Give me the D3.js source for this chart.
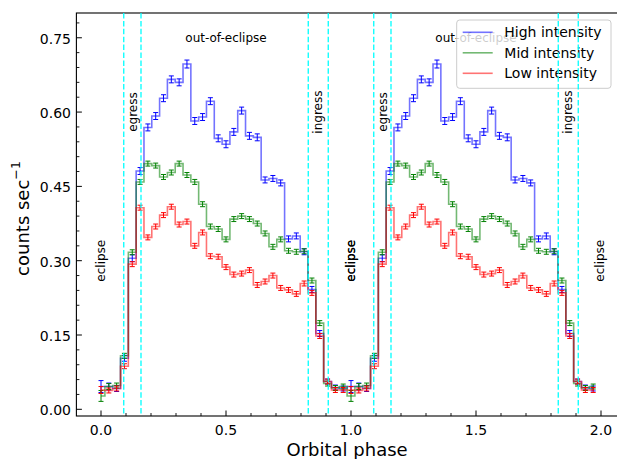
<!DOCTYPE html>
<html><head><meta charset="utf-8">
<script src="https://cdn.jsdelivr.net/npm/d3@7"></script>
<style>
html,body{margin:0;padding:0;background:#fff;}
svg{display:block;font-family:"DejaVu Sans",sans-serif;}
</style></head>
<body>
<svg id="chart" width="617" height="459"></svg>
<script>
// ---- data (one orbital cycle, 32 phase bins; the figure shows two cycles) ----
const phaseCycle = [0.00000,0.03125,0.06250,0.09375,0.12500,0.15625,0.18750,0.21875,
  0.25000,0.28125,0.31250,0.34375,0.37500,0.40625,0.43750,0.46875,
  0.50000,0.53125,0.56250,0.59375,0.62500,0.65625,0.68750,0.71875,
  0.75000,0.78125,0.81250,0.84375,0.87500,0.90625,0.93750,0.96875];
const highRate = [0.046,0.046,0.042,0.103,0.305,0.481,0.569,0.592,0.628,0.666,0.660,0.697,
  0.582,0.590,0.622,0.547,0.535,0.560,0.603,0.552,0.549,0.463,0.466,0.457,
  0.344,0.350,0.318,0.242,0.153,0.056,0.044,0.042];
const highErr = [0.012,0.007,0.006,0.006,0.007,0.007,0.007,0.007,0.007,0.007,0.007,0.008,
  0.007,0.007,0.007,0.007,0.007,0.007,0.007,0.007,0.007,0.006,0.006,0.006,
  0.006,0.006,0.006,0.006,0.006,0.005,0.005,0.005];
const midRate = [0.027,0.046,0.048,0.108,0.317,0.459,0.496,0.492,0.469,0.478,0.496,0.473,
  0.459,0.414,0.369,0.364,0.343,0.384,0.390,0.384,0.375,0.355,0.328,0.343,
  0.320,0.318,0.319,0.260,0.174,0.052,0.043,0.046];
const midErr = [0.011,0.006,0.005,0.005,0.005,0.005,0.005,0.005,0.005,0.005,0.005,0.005,
  0.005,0.005,0.005,0.005,0.005,0.005,0.005,0.005,0.005,0.005,0.005,0.005,
  0.005,0.005,0.005,0.005,0.005,0.005,0.005,0.005];
const lowRate = [0.039,0.038,0.042,0.087,0.293,0.407,0.347,0.369,0.392,0.409,0.373,0.379,
  0.330,0.357,0.309,0.308,0.287,0.272,0.274,0.281,0.251,0.258,0.270,0.245,
  0.241,0.233,0.254,0.235,0.148,0.056,0.039,0.039];
const lowErr = [0.007,0.005,0.005,0.005,0.005,0.005,0.005,0.005,0.005,0.005,0.005,0.005,
  0.005,0.005,0.005,0.005,0.005,0.005,0.005,0.005,0.005,0.005,0.005,0.005,
  0.005,0.005,0.005,0.005,0.005,0.005,0.005,0.005];
const seriesNames = ["High intensity","Mid intensity","Low intensity"];
const cycleOffsets = [0, 1];
const boundaryPhases = [0.091, 0.160, 0.829, 0.909, 1.091, 1.160, 1.829, 1.909];
const xTicks = [0.0, 0.5, 1.0, 1.5, 2.0];
const xTickLabels = ["0.0","0.5","1.0","1.5","2.0"];
const yTicks = [0.00, 0.15, 0.30, 0.45, 0.60, 0.75];
const yTickLabels = ["0.00","0.15","0.30","0.45","0.60","0.75"];
const xMinor = [-0.1,0.1,0.2,0.3,0.4,0.6,0.7,0.8,0.9,1.1,1.2,1.3,1.4,1.6,1.7,1.8,1.9];
const yMinor = [0.03,0.06,0.09,0.12,0.18,0.21,0.24,0.27,0.33,0.36,0.39,0.42,0.48,0.51,0.54,0.57,0.63,0.66,0.69,0.72,0.78];
const rotLabels = [
  {text:"eclipse", x:0.0, y:0.30},
  {text:"egress", x:0.127, y:0.60},
  {text:"ingress", x:0.869, y:0.60},
  {text:"eclipse", x:1.0, y:0.30},
  {text:"eclipse", x:1.0, y:0.30},
  {text:"egress", x:1.127, y:0.60},
  {text:"ingress", x:1.869, y:0.60},
  {text:"eclipse", x:1.996, y:0.30}
];
const flatLabels = [{text:"out-of-eclipse", x:0.5, y:0.75},{text:"out-of-eclipse", x:1.5, y:0.75}];

// ---- layout ----
const svg = d3.select("#chart");
const L = 76.4, R = 617.8, T = 13, B = 416;
const x = d3.scaleLinear().domain([-0.0984, 2.0672]).range([L, R]);
const y = d3.scaleLinear().domain([-0.0135, 0.80]).range([B, T]);

svg.append("defs").append("clipPath").attr("id","clip")
  .append("rect").attr("x",L).attr("y",T).attr("width",R-L).attr("height",B-T);

const colors = ["#0000ff","#008000","#ff0000"];
const rates = [highRate, midRate, lowRate];
const errs = [highErr, midErr, lowErr];

function build(rate, err){
  const out = [];
  cycleOffsets.forEach(off => phaseCycle.forEach((p,i) => out.push({x:p+off, y:rate[i], e:err[i]})));
  return out;
}

const plot = svg.append("g").attr("clip-path","url(#clip)");
const line = d3.line().x(d=>x(d.x)).y(d=>y(d.y)).curve(d3.curveStep);

rates.forEach((rate, k) => {
  const data = build(rate, errs[k]);
  plot.append("path").datum(data).attr("d", line)
    .attr("fill","none").attr("stroke",colors[k]).attr("stroke-width",1.6).attr("stroke-opacity",0.55);
  const g = plot.append("g").attr("stroke",colors[k]).attr("stroke-width",1);
  g.selectAll("line.v").data(data).join("line")
    .attr("x1",d=>x(d.x)).attr("x2",d=>x(d.x)).attr("y1",d=>y(d.y-d.e)).attr("y2",d=>y(d.y+d.e));
  g.selectAll("line.t").data(data).join("line")
    .attr("x1",d=>x(d.x)-2.5).attr("x2",d=>x(d.x)+2.5).attr("y1",d=>y(d.y+d.e)).attr("y2",d=>y(d.y+d.e));
  g.selectAll("line.b").data(data).join("line")
    .attr("x1",d=>x(d.x)-2.5).attr("x2",d=>x(d.x)+2.5).attr("y1",d=>y(d.y-d.e)).attr("y2",d=>y(d.y-d.e));
});

// annotations
rotLabels.forEach(a => {
  svg.append("text").attr("transform",`translate(${x(a.x)},${y(a.y)}) rotate(-90)`)
    .attr("text-anchor","middle").attr("dominant-baseline","central")
    .attr("font-size",12).attr("fill","#000").text(a.text);
});
flatLabels.forEach(a => {
  svg.append("text").attr("x",x(a.x)).attr("y",y(a.y)).attr("text-anchor","middle")
    .attr("dominant-baseline","central").attr("font-size",12).attr("fill","#000").text(a.text);
});

// axes ticks (inward)
const ax = svg.append("g");
xTicks.forEach((t,i) => {
  ax.append("line").attr("x1",x(t)).attr("x2",x(t)).attr("y1",B).attr("y2",B-5.5).attr("stroke","#000").attr("stroke-width",1);
  ax.append("text").attr("x",x(t)).attr("y",435).attr("text-anchor","middle").attr("font-size",14).text(xTickLabels[i]);
});
xMinor.forEach(t => {
  if (x(t) > L) ax.append("line").attr("x1",x(t)).attr("x2",x(t)).attr("y1",B).attr("y2",B-3).attr("stroke","#000").attr("stroke-width",0.9);
});
yTicks.forEach((t,i) => {
  ax.append("line").attr("x1",L).attr("x2",L+5.5).attr("y1",y(t)).attr("y2",y(t)).attr("stroke","#000").attr("stroke-width",1);
  ax.append("text").attr("x",71).attr("y",y(t)+1).attr("text-anchor","end").attr("dominant-baseline","central").attr("font-size",14).text(yTickLabels[i]);
});
yMinor.forEach(t => {
  ax.append("line").attr("x1",L).attr("x2",L+3).attr("y1",y(t)).attr("y2",y(t)).attr("stroke","#000").attr("stroke-width",0.9);
});
// frame
svg.append("rect").attr("x",L).attr("y",T).attr("width",R-L).attr("height",B-T)
  .attr("fill","none").attr("stroke","#000").attr("stroke-width",1.1);

// axis labels
svg.append("text").attr("x",(L+R)/2).attr("y",456).attr("text-anchor","middle").attr("font-size",18).text("Orbital phase");
const yl = svg.append("text").attr("transform",`translate(22,${(T+B)/2 + 4}) rotate(-90)`)
  .attr("text-anchor","middle").attr("dominant-baseline","central").attr("font-size",18);
yl.append("tspan").text("counts sec");
yl.append("tspan").attr("font-size",12.6).attr("dy",-7).text("\u22121");

// legend
const lg = svg.append("g");
lg.append("rect").attr("x",456.7).attr("y",20).attr("width",154.3).attr("height",68.3).attr("rx",3)
  .attr("fill","#fff").attr("fill-opacity",0.8).attr("stroke","#cccccc").attr("stroke-width",1);
seriesNames.forEach((n,k) => {
  const yy = 32.3 + k*20.5;
  lg.append("line").attr("x1",462.7).attr("x2",492.7).attr("y1",yy).attr("y2",yy)
    .attr("stroke",colors[k]).attr("stroke-width",1.6).attr("stroke-opacity",0.55);
  lg.append("text").attr("x",504.3).attr("y",yy).attr("dominant-baseline","central").attr("font-size",14).text(n);
});

// phase boundaries (dashed cyan)
svg.append("g").selectAll("line").data(boundaryPhases).join("line")
  .attr("x1",d=>x(d)).attr("x2",d=>x(d)).attr("y1",T).attr("y2",B)
  .attr("stroke","#00ffff").attr("stroke-width",1.3).attr("stroke-dasharray","5.5,2.4");
</script>
</body></html>
